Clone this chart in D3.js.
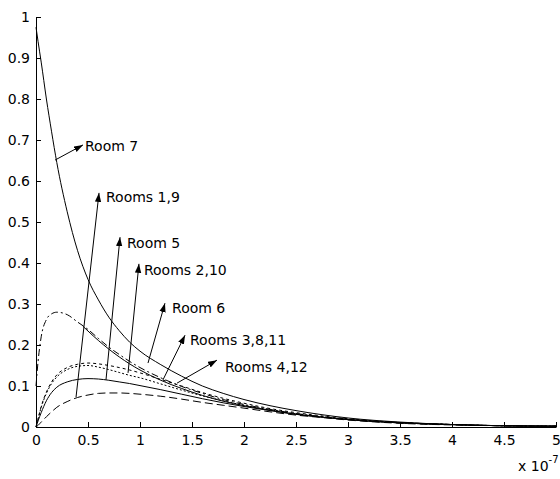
<!DOCTYPE html>
<html>
<head>
<meta charset="utf-8">
<script src="https://cdn.jsdelivr.net/npm/d3@7"></script>
<style>
  body { margin: 0; background: #fff; }
  svg { display: block; }
  text { font-family: "DejaVu Sans", Arial, sans-serif; font-size: 14px; fill: #000; }
</style>
</head>
<body>
<svg id="chart"></svg>
<script>
// time axis, in units of 1e-7
var tGrid = [0, 0.02, 0.05, 0.1, 0.15, 0.2, 0.3, 0.4, 0.5, 0.6, 0.7, 0.8, 0.9, 1.0, 1.2, 1.4, 1.6, 1.8, 2.0, 2.25, 2.5, 2.75, 3.0, 3.5, 4.0, 4.5, 5.0];
var tLate = [0.45, 0.5, 0.6, 0.7, 0.8, 0.9, 1.0, 1.2, 1.4, 1.6, 1.8, 2.0, 2.25, 2.5, 2.75, 3.0, 3.5, 4.0, 4.5, 5.0];

var room7     = [0.975, 0.94, 0.89, 0.80, 0.72, 0.645, 0.525, 0.43, 0.36, 0.31, 0.268, 0.235, 0.207, 0.185, 0.152, 0.124, 0.1, 0.082, 0.067, 0.052, 0.04, 0.03, 0.022, 0.012, 0.006, 0.003, 0.002];
var room6     = [0.10, 0.16, 0.22, 0.262, 0.276, 0.28, 0.274, 0.256, 0.238, 0.216, 0.195, 0.177, 0.16, 0.145, 0.12, 0.099, 0.082, 0.067, 0.055, 0.043, 0.033, 0.025, 0.019, 0.011, 0.006, 0.003, 0.002];
var rooms3811 = [0.246, 0.234, 0.211, 0.19, 0.171, 0.154, 0.139, 0.114, 0.094, 0.077, 0.063, 0.052, 0.041, 0.031, 0.024, 0.018, 0.01, 0.006, 0.003, 0.002];
var rooms412  = [0, 0.02, 0.05, 0.085, 0.11, 0.127, 0.145, 0.153, 0.156, 0.154, 0.15, 0.145, 0.139, 0.132, 0.116, 0.1, 0.084, 0.07, 0.058, 0.045, 0.035, 0.027, 0.02, 0.011, 0.006, 0.003, 0.002];
var rooms210  = [0, 0.02, 0.048, 0.082, 0.106, 0.122, 0.14, 0.148, 0.15, 0.146, 0.14, 0.133, 0.126, 0.12, 0.105, 0.09, 0.076, 0.064, 0.053, 0.042, 0.032, 0.025, 0.019, 0.01, 0.006, 0.003, 0.002];
var room5     = [0, 0.015, 0.035, 0.064, 0.084, 0.097, 0.11, 0.116, 0.118, 0.117, 0.114, 0.11, 0.106, 0.101, 0.091, 0.08, 0.069, 0.059, 0.05, 0.04, 0.031, 0.024, 0.018, 0.01, 0.006, 0.003, 0.002];
var rooms19   = [0, 0.004, 0.012, 0.025, 0.037, 0.048, 0.062, 0.072, 0.078, 0.082, 0.083, 0.083, 0.082, 0.08, 0.075, 0.068, 0.06, 0.053, 0.046, 0.037, 0.029, 0.023, 0.017, 0.009, 0.005, 0.003, 0.002];

var xTicks = d3.range(0, 5.01, 0.5);
var yTicks = d3.range(0, 1.01, 0.1);

// annotation arrows: tail on the curve, head near the label
var labelNames = ["Room 7", "Rooms 1,9", "Room 5", "Rooms 2,10", "Room 6", "Rooms 3,8,11", "Rooms 4,12"];
var tailX = [0.183, 0.385, 0.673, 0.885, 1.077, 1.221, 1.356];
var tailY = [0.651, 0.073, 0.115, 0.132, 0.156, 0.115, 0.107];
var headX = [0.452, 0.606, 0.808, 0.99, 1.24, 1.433, 1.74];
var headY = [0.688, 0.571, 0.463, 0.398, 0.302, 0.224, 0.163];
var textX = [0.471, 0.673, 0.875, 1.038, 1.308, 1.481, 1.817];
var textY = [0.685, 0.561, 0.449, 0.383, 0.290, 0.212, 0.146];

var width = 560, height = 479;
var margin = {top: 17, right: 4, bottom: 52, left: 36};

var svg = d3.select("#chart")
  .attr("width", width)
  .attr("height", height);

var x = d3.scaleLinear().domain([0, 5]).range([margin.left, width - margin.right]);
var y = d3.scaleLinear().domain([0, 1]).range([height - margin.bottom, margin.top]);

// series table
var series = [
  {name: "Room 7",       t: tGrid, v: room7,     dash: null},
  {name: "Room 6",       t: tGrid, v: room6,     dash: "7,3,2,3"},
  {name: "Rooms 3,8,11", t: tLate, v: rooms3811, dash: null},
  {name: "Rooms 4,12",   t: tGrid, v: rooms412,  dash: "3,3"},
  {name: "Rooms 2,10",   t: tGrid, v: rooms210,  dash: "2,2"},
  {name: "Room 5",       t: tGrid, v: room5,     dash: null},
  {name: "Rooms 1,9",    t: tGrid, v: rooms19,   dash: "8,4"}
];

var line = d3.line()
  .x(d => x(d[0]))
  .y(d => y(d[1]))
  .curve(d3.curveMonotoneX);

svg.append("g")
  .selectAll("path")
  .data(series)
  .enter()
  .append("path")
  .attr("d", s => line(s.t.map((t, i) => [t, s.v[i]])))
  .attr("fill", "none")
  .attr("stroke", "#000")
  .attr("stroke-width", 1)
  .attr("stroke-dasharray", s => s.dash)
;

// axes, matlab style: ticks pointing inward
var xAxis = svg.append("g")
  .attr("transform", "translate(0," + y(0) + ")")
  .call(d3.axisBottom(x).tickValues(xTicks).tickFormat(d3.format("~g")).tickSize(-5).tickSizeOuter(0).tickPadding(8));

var yAxis = svg.append("g")
  .attr("transform", "translate(" + x(0) + ",0)")
  .call(d3.axisLeft(y).tickValues(yTicks).tickFormat(d3.format("~g")).tickSize(-5).tickSizeOuter(0).tickPadding(6));

svg.selectAll(".domain, .tick line").attr("stroke", "#000");
svg.selectAll(".tick text").style("font-family", "'DejaVu Sans', Arial, sans-serif").style("font-size", "14px");

// exponent label
var expo = svg.append("text")
  .attr("x", 518)
  .attr("y", 471);
expo.append("tspan").text("x 10");
expo.append("tspan")
  .attr("dy", -8)
  .style("font-size", "10px")
  .text("-7");

// arrows
svg.append("defs").append("marker")
  .attr("id", "head")
  .attr("markerUnits", "userSpaceOnUse")
  .attr("viewBox", "0 0 10 7")
  .attr("refX", 10)
  .attr("refY", 3.5)
  .attr("markerWidth", 9)
  .attr("markerHeight", 7)
  .attr("orient", "auto")
  .append("path")
  .attr("d", "M0,0 L10,3.5 L0,7 Z")
  .attr("fill", "#000");

var notes = labelNames.map((n, i) => ({name: n, tx: tailX[i], ty: tailY[i], hx: headX[i], hy: headY[i], lx: textX[i], ly: textY[i]}));

svg.append("g")
  .selectAll("line")
  .data(notes)
  .enter()
  .append("line")
  .attr("x1", d => x(d.tx))
  .attr("y1", d => y(d.ty))
  .attr("x2", d => x(d.hx))
  .attr("y2", d => y(d.hy))
  .attr("stroke", "#000")
  .attr("stroke-width", 1)
  .attr("marker-end", "url(#head)");

svg.append("g")
  .selectAll("text")
  .data(notes)
  .enter()
  .append("text")
  .attr("x", d => x(d.lx))
  .attr("y", d => y(d.ly))
  .attr("dy", "0.35em")
  .text(d => d.name);
</script>
</body>
</html>
